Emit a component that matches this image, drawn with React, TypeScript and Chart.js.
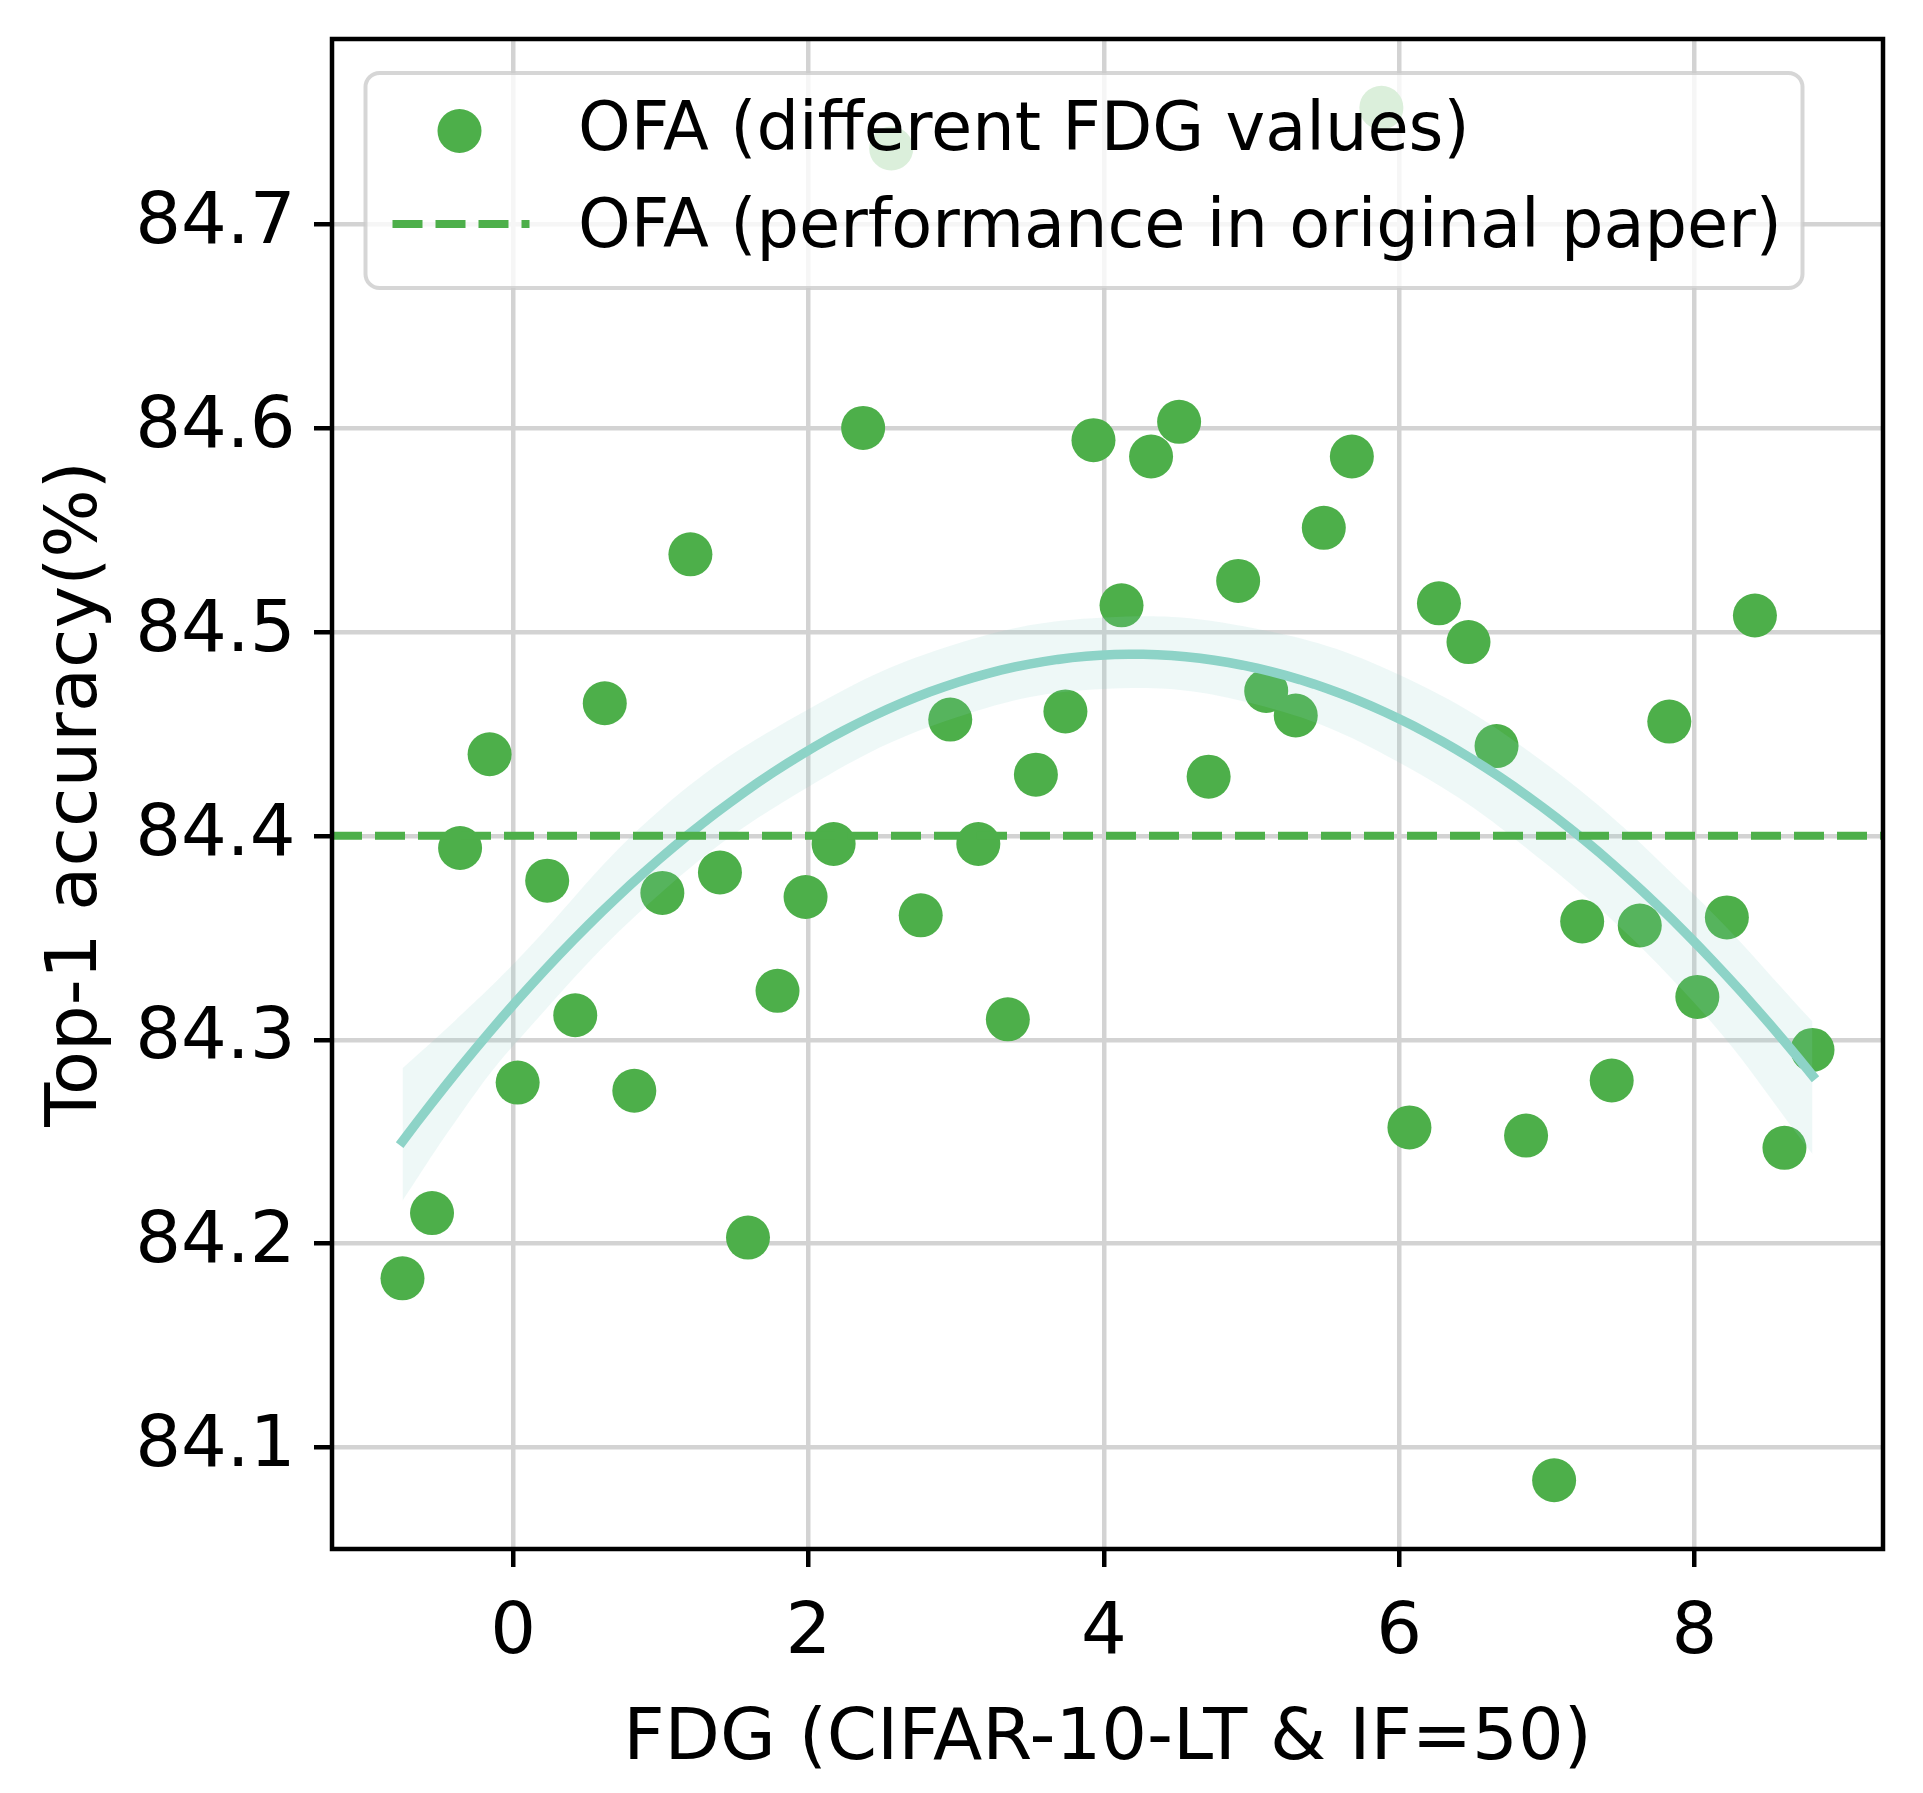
import React, { useEffect, useRef } from 'react';
import Chart from 'chart.js/auto';

// FDG value of each run and the top-1 accuracy it reached
const fdg = [
  -0.75, -0.55, -0.36, -0.16, 0.03, 0.23, 0.42, 0.62, 0.82, 1.01,
  1.2, 1.4, 1.59, 1.79, 1.98, 2.17, 2.37, 2.56, 2.76, 2.96,
  3.15, 3.35, 3.54, 3.74, 3.93, 4.12, 4.32, 4.51, 4.71, 4.91,
  5.1, 5.3, 5.49, 5.68, 5.88, 6.07, 6.27, 6.47, 6.66, 6.86,
  7.05, 7.24, 7.44, 7.63, 7.83, 8.02, 8.22, 8.41, 8.61, 8.8,
];
const accuracy = [
  84.183, 84.215, 84.394, 84.44, 84.279, 84.378, 84.312, 84.465, 84.275, 84.372,
  84.538, 84.382, 84.203, 84.324, 84.37, 84.396, 84.6, 84.737, 84.361, 84.457,
  84.396, 84.31, 84.43, 84.461, 84.594, 84.513, 84.586, 84.603, 84.429, 84.525,
  84.471, 84.459, 84.551, 84.586, 84.757, 84.257, 84.514, 84.495, 84.444, 84.253,
  84.084, 84.358, 84.28, 84.356, 84.456, 84.321, 84.36, 84.508, 84.247, 84.295,
];

// confidence band of the order-2 fit
const bandX = [-0.75, -0.4, 0, 1, 2, 3, 4, 5, 6, 7, 8, 8.8];
const bandUpper = [84.286, 84.309, 84.337, 84.413, 84.462, 84.494, 84.507, 84.502, 84.479, 84.435, 84.371, 84.309];
const bandLower = [84.221, 84.259, 84.297, 84.372, 84.424, 84.458, 84.472, 84.465, 84.436, 84.386, 84.318, 84.244];

const paperAccuracy = 84.4;

const xTicks = [0, 2, 4, 6, 8];
const yTicks = [84.1, 84.2, 84.3, 84.4, 84.5, 84.6, 84.7];
const xMin = -1.2275;
const xMax = 9.2775;
const yMin = 84.0503;
const yMax = 84.7907;

const legendLabels = ['OFA (different FDG values)', 'OFA (performance in original paper)'];
const xTitle = 'FDG (CIFAR-10-LT & IF=50)';
const yTitle = 'Top-1 accuracy(%)';

const FONT = '"DejaVu Sans", sans-serif';
const GREEN = '#4daf4a';
const TEAL = '#8dd3c7';

// least squares y = a + b x + c x^2 on the scatter, like regplot(order=2)
function quadFit(xs: number[], ys: number[]) {
  const s = [0, 0, 0, 0, 0];
  const t = [0, 0, 0];
  xs.forEach((x, i) => {
    for (let k = 0; k < 5; k++) s[k] += x ** k;
    for (let k = 0; k < 3; k++) t[k] += ys[i] * x ** k;
  });
  const m = [
    [s[0], s[1], s[2], t[0]],
    [s[1], s[2], s[3], t[1]],
    [s[2], s[3], s[4], t[2]],
  ];
  for (let i = 0; i < 3; i++) {
    for (let j = i + 1; j < 3; j++) {
      const f = m[j][i] / m[i][i];
      for (let k = i; k < 4; k++) m[j][k] -= f * m[i][k];
    }
  }
  const c = [0, 0, 0];
  for (let i = 2; i >= 0; i--) {
    let v = m[i][3];
    for (let k = i + 1; k < 3; k++) v -= m[i][k] * c[k];
    c[i] = v / m[i][i];
  }
  return c;
}

const framePlugin = {
  id: 'frame',
  afterDatasetsDraw(chart: any) {
    const { ctx, chartArea: a } = chart;
    ctx.save();
    ctx.strokeStyle = '#000';
    ctx.lineWidth = 4.5;
    ctx.strokeRect(a.left, a.top, a.right - a.left, a.bottom - a.top);
    ctx.restore();
  },
};

// matplotlib style legend box, half see-through
const legendPlugin = {
  id: 'boxLegend',
  afterDraw(chart: any) {
    const { ctx, chartArea: a } = chart;
    const x0 = a.left + 33.5;
    const y0 = a.top + 34;
    ctx.save();
    ctx.beginPath();
    ctx.roundRect(x0, y0, 1437, 215, 14);
    ctx.fillStyle = 'rgba(255,255,255,0.8)';
    ctx.fill();
    ctx.lineWidth = 4;
    ctx.strokeStyle = 'rgba(204,204,204,0.8)';
    ctx.stroke();

    ctx.beginPath();
    ctx.arc(x0 + 94, y0 + 58, 22, 0, Math.PI * 2);
    ctx.fillStyle = GREEN;
    ctx.fill();

    ctx.beginPath();
    ctx.setLineDash([30, 13]);
    ctx.moveTo(x0 + 27, y0 + 151);
    ctx.lineTo(x0 + 164, y0 + 151);
    ctx.strokeStyle = GREEN;
    ctx.lineWidth = 8;
    ctx.stroke();
    ctx.setLineDash([]);

    ctx.font = `67px ${FONT}`;
    ctx.fillStyle = '#000';
    ctx.textBaseline = 'alphabetic';
    ctx.fillText(legendLabels[0], x0 + 212.5, y0 + 77);
    ctx.fillText(legendLabels[1], x0 + 212.5, y0 + 174);
    ctx.restore();
  },
};

const FdgChart = () => {
  const chartRef = useRef<HTMLCanvasElement>(null);
  const chartInstance = useRef<Chart | null>(null);

  useEffect(() => {
    if (chartInstance.current) {
      chartInstance.current.destroy();
    }
    const ctx = chartRef.current;
    if (!ctx) return;

    const points = fdg.map((x, i) => ({ x, y: accuracy[i] }));
    const [c0, c1, c2] = quadFit(fdg, accuracy);
    const lo = Math.min(...fdg);
    const hi = Math.max(...fdg);
    const curve = Array.from({ length: 100 }, (_, i) => {
      const x = lo + ((hi - lo) * i) / 99;
      return { x, y: c0 + c1 * x + c2 * x * x };
    });
    const upper = bandX.map((x, i) => ({ x, y: bandUpper[i] }));
    const lower = bandX.map((x, i) => ({ x, y: bandLower[i] }));

    const tickFont = { family: FONT, size: 72 };

    chartInstance.current = new Chart(ctx, {
      type: 'scatter',
      data: {
        datasets: [
          {
            label: 'paper',
            data: [{ x: xMin, y: paperAccuracy }, { x: xMax, y: paperAccuracy }],
            showLine: true,
            borderColor: GREEN,
            borderWidth: 8,
            borderDash: [30, 13],
            pointRadius: 0,
            order: 0,
          },
          {
            label: 'fit',
            data: curve,
            showLine: true,
            borderColor: TEAL,
            borderWidth: 9.5,
            borderCapStyle: 'square',
            pointRadius: 0,
            order: 1,
          },
          {
            label: 'lower',
            data: lower,
            showLine: true,
            borderColor: 'transparent',
            borderWidth: 0,
            tension: 0.4,
            pointRadius: 0,
            fill: false,
            order: 3,
          },
          {
            label: 'upper',
            data: upper,
            showLine: true,
            borderColor: 'transparent',
            borderWidth: 0,
            tension: 0.4,
            pointRadius: 0,
            fill: '-1',
            backgroundColor: 'rgba(141,211,199,0.15)',
            order: 2,
          },
          {
            label: legendLabels[0],
            data: points,
            pointRadius: 22,
            pointBackgroundColor: GREEN,
            pointBorderWidth: 0,
            borderWidth: 0,
            order: 4,
          },
        ],
      } as any,
      options: {
        animation: false,
        responsive: false,
        devicePixelRatio: 1,
        events: [],
        layout: { padding: { top: 39, right: 40, left: 0, bottom: 0 } },
        plugins: {
          legend: { display: false },
          tooltip: { enabled: false },
        },
        scales: {
          x: {
            type: 'linear',
            min: xMin,
            max: xMax,
            afterBuildTicks: (scale: any) => {
              scale.ticks = xTicks.map((v) => ({ value: v }));
            },
            afterFit: (scale: any) => {
              scale.height = 244;
              scale.paddingLeft = 0;
              scale.paddingRight = 0;
            },
            grid: { color: '#d3d3d3', lineWidth: 4.5, tickColor: '#000', tickLength: 18, tickWidth: 4.5 },
            border: { display: false },
            ticks: {
              font: tickFont,
              color: '#000',
              padding: 24,
              maxRotation: 0,
              autoSkip: false,
              callback: (v: any) => String(v),
            },
            title: {
              display: true,
              text: xTitle,
              font: tickFont,
              color: '#000',
              padding: { top: 0, bottom: 10 },
            },
          },
          y: {
            type: 'linear',
            min: yMin,
            max: yMax,
            afterBuildTicks: (scale: any) => {
              scale.ticks = yTicks.map((v) => ({ value: v }));
            },
            afterFit: (scale: any) => {
              scale.width = 332;
              scale.paddingTop = 0;
              scale.paddingBottom = 0;
            },
            grid: { color: '#d3d3d3', lineWidth: 4.5, tickColor: '#000', tickLength: 18, tickWidth: 4.5 },
            border: { display: false },
            ticks: {
              font: tickFont,
              color: '#000',
              padding: 18.5,
              autoSkip: false,
              callback: (v: any) => Number(v).toFixed(1),
            },
            title: {
              display: true,
              text: yTitle,
              font: tickFont,
              color: '#000',
              padding: { top: 34, bottom: 0 },
            },
          },
        },
      },
      plugins: [framePlugin, legendPlugin],
    });

    return () => {
      if (chartInstance.current) {
        chartInstance.current.destroy();
        chartInstance.current = null;
      }
    };
  }, []);

  return (
    <div style={{ position: 'absolute', left: 0, top: 0, width: 1923, height: 1793, background: '#fff' }}>
      <canvas ref={chartRef} width={1923} height={1793} style={{ display: 'block', width: 1923, height: 1793 }}></canvas>
    </div>
  );
};

export default function App() {
  return <FdgChart />;
}
